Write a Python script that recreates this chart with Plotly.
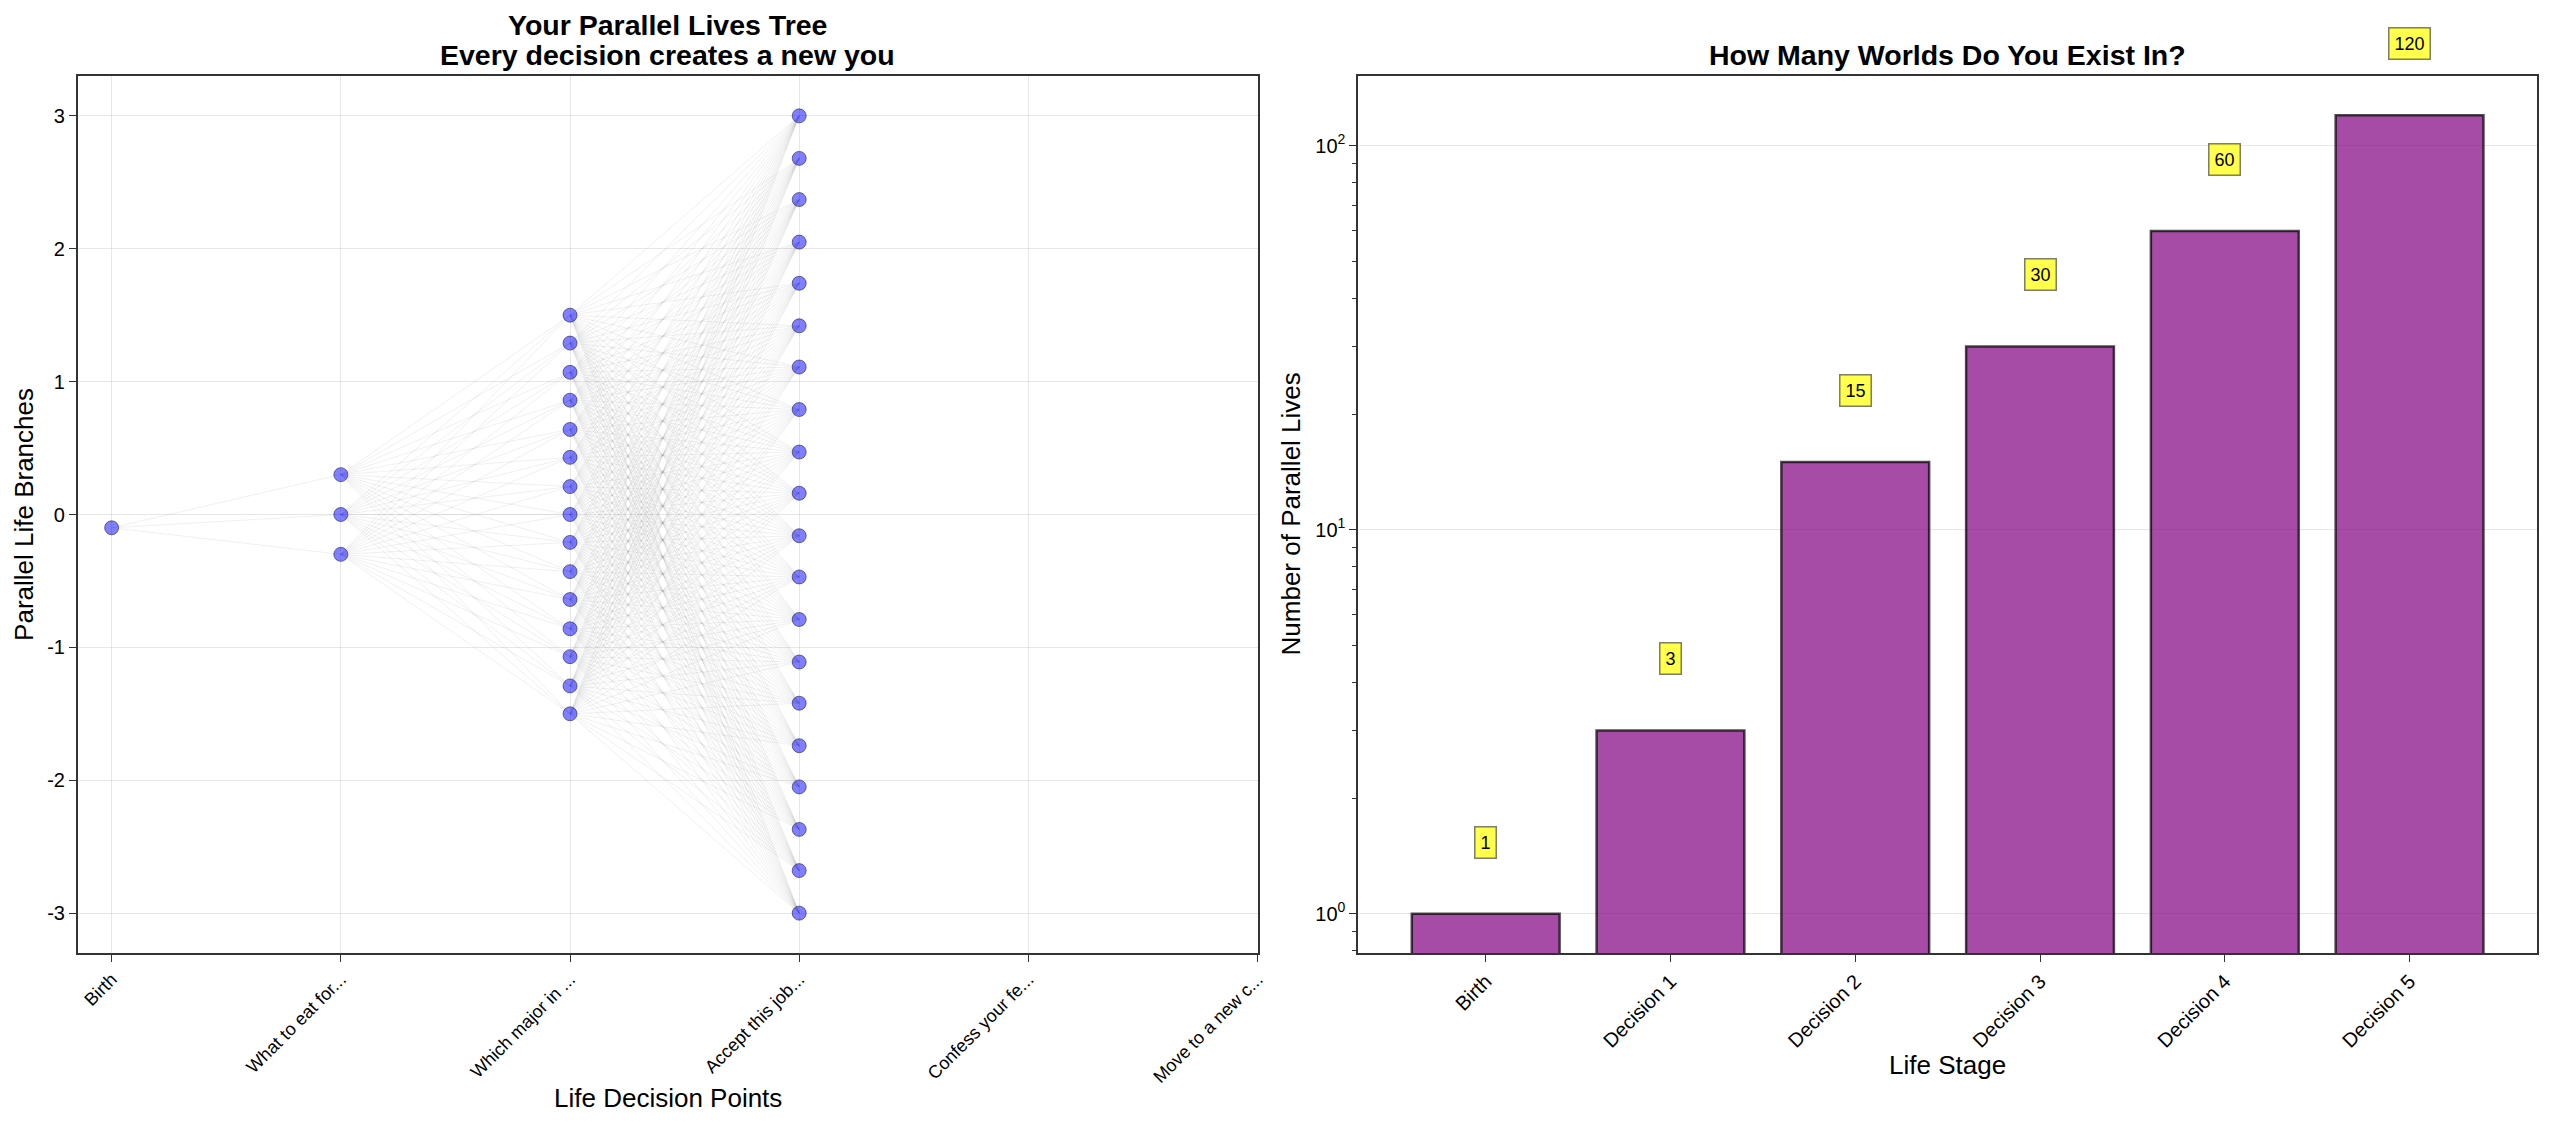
import math
import plotly.graph_objects as go

# ---------------- data ----------------
decision_labels = ["Birth", "What to eat for...", "Which major in ...",
                   "Accept this job...", "Confess your fe...", "Move to a new c..."]
stage0_y = [-0.1]
stage1_y = [0.3, 0.0, -0.3]
stage2_y = [1.5, 1.29, 1.07, 0.86, 0.64, 0.43, 0.21, 0.0,
            -0.21, -0.43, -0.64, -0.86, -1.07, -1.29, -1.5]
stage3_y = [3.0, 2.68, 2.37, 2.05, 1.74, 1.42, 1.11, 0.79, 0.47, 0.16,
            -0.16, -0.47, -0.79, -1.11, -1.42, -1.74, -2.05, -2.37, -2.68, -3.0]
branch_ticks = [-3, -2, -1, 0, 1, 2, 3]
branch_tick_text = ["-3", "-2", "-1", "0", "1", "2", "3"]

stage_names = ["Birth", "Decision 1", "Decision 2", "Decision 3", "Decision 4", "Decision 5"]
world_counts = [1, 3, 15, 30, 60, 120]

stages = [stage0_y, stage1_y, stage2_y, stage3_y]

FONT = "Liberation Sans, Arial, Helvetica, sans-serif"
AX = "#333333"
GRID = "rgba(176,176,176,0.3)"
LOG_RANGE = [-0.1025, 2.1817]

fig = go.Figure()

# ---------------- left: tree ----------------
for k in range(len(stages) - 1):
    for ys in stages[k]:
        xs, yv = [], []
        for yt in stages[k + 1]:
            xs += [k, k + 1, None]
            yv += [ys, yt, None]
        fig.add_trace(go.Scatter(
            x=xs, y=yv, mode="lines", xaxis="x", yaxis="y",
            line=dict(color="rgba(128,128,128,0.15)", width=0.8),
            hoverinfo="skip", showlegend=False))

for k, ys in enumerate(stages):
    fig.add_trace(go.Scatter(
        x=[k] * len(ys), y=ys, mode="markers", xaxis="x", yaxis="y",
        marker=dict(size=14, color="rgba(0,0,255,0.5)",
                    line=dict(color="rgba(20,20,60,0.55)", width=1)),
        showlegend=False))

# ---------------- right: bars ----------------
fig.add_trace(go.Bar(
    x=list(range(len(stage_names))), y=world_counts, width=0.8,
    xaxis="x2", yaxis="y2",
    marker=dict(color="rgba(128,0,128,0.7)",
                line=dict(color="rgba(0,0,0,0.7)", width=2.5)),
    showlegend=False))

annotations = []
for i, c in enumerate(world_counts):
    frac = (math.log10(c * 1.5) - LOG_RANGE[0]) / (LOG_RANGE[1] - LOG_RANGE[0])
    annotations.append(dict(
        x=i, y=frac, xref="x2", yref="y2 domain",
        text=str(c), showarrow=False, yshift=4,
        xanchor="center", yanchor="middle",
        font=dict(family=FONT, size=18, color="black"),
        bgcolor="rgba(255,255,0,0.7)", bordercolor="rgba(0,0,0,0.5)",
        borderwidth=1.5, borderpad=5))

W, H = 2560, 1127
def px(x):
    return x / W
def py(y):
    return 1 - y / H

annotations += [
    dict(text="<b>Your Parallel Lives Tree</b>", x=px(670), y=py(25), xref="paper", yref="paper",
         showarrow=False, xanchor="center", yanchor="middle",
         font=dict(family=FONT, size=28.5, color="black")),
    dict(text="<b>Every decision creates a new you</b>", x=px(670), y=py(55), xref="paper", yref="paper",
         showarrow=False, xanchor="center", yanchor="middle",
         font=dict(family=FONT, size=28.5, color="black")),
    dict(text="<b>How Many Worlds Do You Exist In?</b>", x=px(1954), y=py(55), xref="paper", yref="paper",
         showarrow=False, xanchor="center", yanchor="middle",
         font=dict(family=FONT, size=28.5, color="black")),
    dict(text="Life Decision Points", x=px(670), y=py(1098), xref="paper", yref="paper",
         showarrow=False, xanchor="center", yanchor="middle",
         font=dict(family=FONT, size=26, color="black")),
    dict(text="Life Stage", x=px(1954), y=py(1065), xref="paper", yref="paper",
         showarrow=False, xanchor="center", yanchor="middle",
         font=dict(family=FONT, size=26, color="black")),
    dict(text="Parallel Life Branches", x=px(24), y=py(514), xref="paper", yref="paper",
         showarrow=False, xanchor="center", yanchor="middle", textangle=-90,
         font=dict(family=FONT, size=26, color="black")),
    dict(text="Number of Parallel Lives", x=px(1296), y=py(514), xref="paper", yref="paper",
         showarrow=False, xanchor="center", yanchor="middle", textangle=-90,
         font=dict(family=FONT, size=26, color="black")),
]

axis_common = dict(showline=True, linecolor=AX, linewidth=1.6, mirror=True,
                   ticks="outside", ticklen=7, tickwidth=1.4, tickcolor=AX,
                   zeroline=False, gridcolor=GRID, gridwidth=1)

fig.update_layout(
    width=W, height=H, autosize=False,
    margin=dict(l=0, r=0, t=0, b=0),
    paper_bgcolor="white", plot_bgcolor="white",
    font=dict(family=FONT, color="black"),
    bargap=0.2,
    xaxis=dict(domain=[px(78), px(1262)], anchor="y", range=[-0.148, 5.0],
               tickmode="array", tickvals=list(range(len(decision_labels))),
               ticktext=decision_labels, tickangle=-45, showgrid=True,
               tickfont=dict(family=FONT, size=18), **axis_common),
    yaxis=dict(domain=[1 - 953 / H, 1 - 76 / H], anchor="x", range=[-3.3, 3.3],
               tickmode="array", tickvals=branch_ticks, ticktext=branch_tick_text,
               showgrid=True, tickfont=dict(family=FONT, size=20), **axis_common),
    xaxis2=dict(domain=[px(1363), px(2546)], anchor="y2", range=[-0.69, 5.69],
                tickmode="array", tickvals=list(range(len(stage_names))),
                ticktext=stage_names, tickangle=-45, showgrid=False,
                tickfont=dict(family=FONT, size=20), **axis_common),
    yaxis2=dict(domain=[1 - 953 / H, 1 - 76 / H], anchor="x2", type="log",
                range=LOG_RANGE, tickmode="array",
                tickvals=[1, 10, 100],
                ticktext=["10<sup>0</sup>", "10<sup>1</sup>", "10<sup>2</sup>"],
                showgrid=True, tickfont=dict(family=FONT, size=20),
                minor=dict(ticks="outside", ticklen=4, tickwidth=1, tickcolor=AX,
                           showgrid=False, tickmode="array",
                           tickvals=[0.8, 0.9, 2, 3, 4, 5, 6, 7, 8, 9,
                                     20, 30, 40, 50, 60, 70, 80, 90]),
                **axis_common),
    annotations=annotations,
)

fig.write_html("out.html")
